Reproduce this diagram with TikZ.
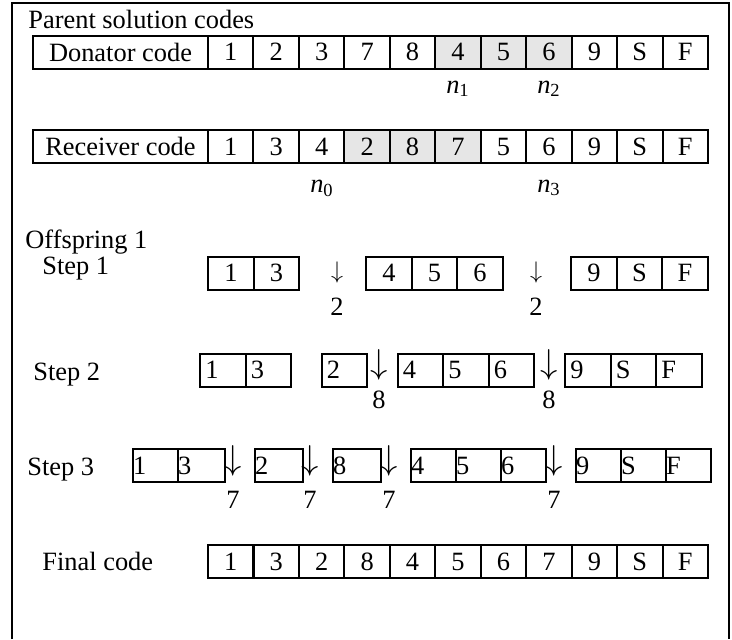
\documentclass[tikz,border=0pt]{standalone}
\usepackage{fontspec}
\setmainfont{Liberation Serif}
\usepackage{tikz}
\definecolor{swapgray}{HTML}{E6E6E6}

\begin{document}
\begin{tikzpicture}[
    x=0.5pt, y=-0.5pt,
    every node/.style={font=\fontsize{13.2}{15}\selectfont, inner sep=0pt},
    cell/.style={draw, line width=1pt, outer sep=0pt, minimum width=22.75pt, minimum height=16.5pt},
    namecell/.style={cell, minimum width=87.5pt},
    lcell/.style={cell, align=left, inner xsep=2.5pt, text width=17.75pt},
    tcell/.style={cell, align=left, inner xsep=0pt, text width=#1},
    lbl/.style={anchor=base west},
    arr/.style={anchor=south, font=\fontsize{16}{18}\selectfont}
]
    \useasboundingbox (0,0) rectangle (732,639);

    % === FRAME (open at the bottom) ===
    \draw[line width=1pt] (12,639) -- (12,3) -- (729,3) -- (729,639);

    % === PARENT SOLUTION CODES ===
    \node[lbl] (title) at (28,28) {Parent solution codes};

    % Donator code
    \node[namecell] (don) at (120.5,52) {Donator code};
    \foreach \v/\f [count=\i] in {1/white,2/white,3/white,7/white,8/white,4/swapgray,5/swapgray,6/swapgray,9/white,S/white,F/white} {
        \node[cell, fill=\f] (d\i) at (185.3+45.45*\i,52) {\v};
    }
    \node[anchor=base] (n1) at (458,93) {\textit{n}\textsubscript{1}};
    \node[anchor=base] (n2) at (549,93) {\textit{n}\textsubscript{2}};

    % Receiver code
    \node[namecell] (rec) at (120.5,146.5) {Receiver code};
    \foreach \v/\f [count=\i] in {1/white,3/white,4/white,2/swapgray,8/swapgray,7/swapgray,5/white,6/white,9/white,S/white,F/white} {
        \node[cell, fill=\f] (r\i) at (185.3+45.45*\i,146.5) {\v};
    }
    \node[anchor=base] (n0) at (322,192) {\textit{n}\textsubscript{0}};
    \node[anchor=base] (n3) at (549,192) {\textit{n}\textsubscript{3}};

    % === OFFSPRING 1 ===
    \node[lbl] (off) at (25,248) {Offspring 1};

    % Step 1
    \node[lbl] (st1) at (42,274) {Step 1};
    \foreach \v/\x [count=\i] in {1/231,3/276.5,4/389,5/434.5,6/480,9/594,S/639.5,F/685} {
        \node[cell] (a\i) at (\x,273) {\v};
    }
    \foreach \x [count=\i] in {337,536} {
        \node[arr, font=\fontsize{12}{14}\selectfont] (ad\i) at (\x,284) {$\downarrow$};
        \node (av\i) at (\x,307) {2};
    }

    % Step 2
    \node[lbl] (st2) at (33,380) {Step 2};
    \foreach \v/\x [count=\i] in {1/223,3/268.5,2/344.5,4/420.5,5/466,6/511.5,9/588,S/633.5,F/679} {
        \node[lcell] (b\i) at (\x,370) {\v};
    }
    \foreach \x [count=\i] in {379,549} {
        \node[arr] (bd\i) at (\x,381) {$\downarrow$};
        \node (bv\i) at (\x,400) {8};
    }

    % Step 3
    \node[lbl] (st3) at (27,475) {Step 3};
    \foreach \v/\x/\w [count=\i] in {1/155.5/22.5pt,3/201.5/23.5pt,2/279/24pt,8/357/24pt,4/433.5/22.5pt,5/478.5/22.5pt,6/523.5/22.5pt,9/598.5/22.5pt,S/643.5/22.5pt,F/688.5/22.5pt} {
        \node[tcell=\w] (c\i) at (\x,465.5) {\v};
    }
    \foreach \x [count=\i] in {233,310,389,554} {
        \node[arr] (cd\i) at (\x,477) {$\downarrow$};
        \node (cv\i) at (\x,500) {7};
    }

    % === FINAL CODE ===
    \node[lbl] (fin) at (42,570) {Final code};
    \foreach \v [count=\i] in {1,3,2,8,4,5,6,7,9,S,F} {
        \node[cell] (f\i) at (185.3+45.45*\i,561.5) {\v};
    }
\end{tikzpicture}
\end{document}
